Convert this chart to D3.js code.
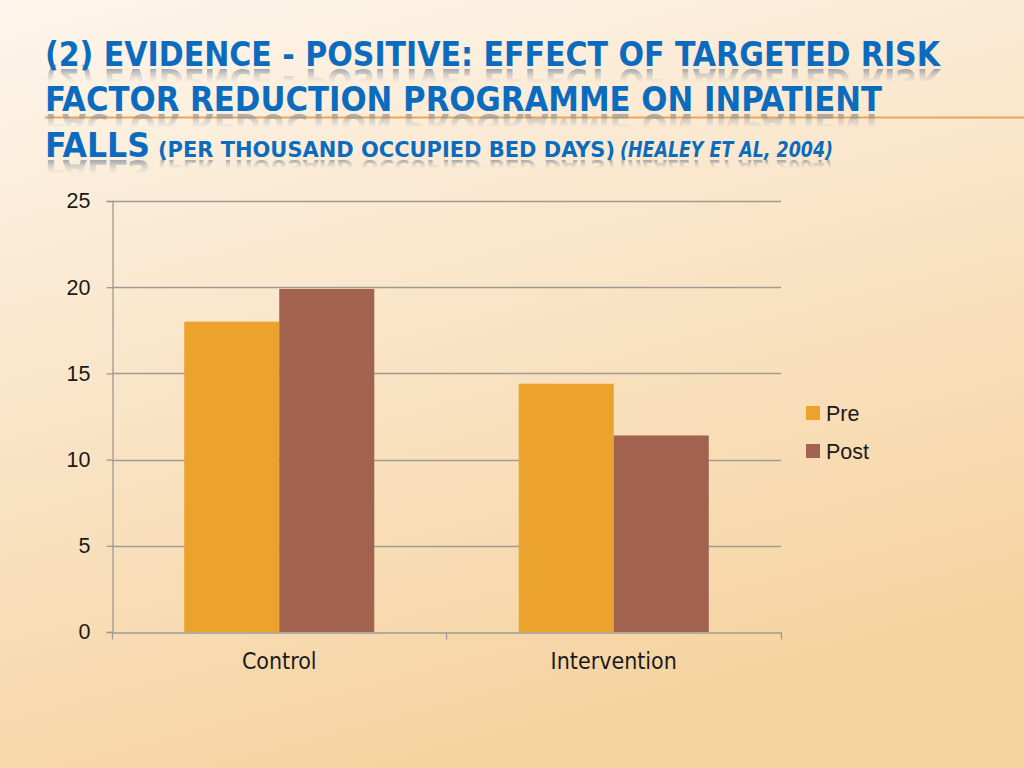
<!DOCTYPE html>
<html>
<head>
<meta charset="utf-8">
<script src="https://cdn.jsdelivr.net/npm/d3@7"></script>
<style>
  html, body { margin: 0; padding: 0; }
  body { width: 1024px; height: 768px; overflow: hidden; }
</style>
</head>
<body>
<div id="plot"></div>
<script>
// chart data
const categories = ["Control", "Intervention"];
const seriesNames = ["Pre", "Post"];
const preValues = [18, 14.4];
const postValues = [19.9, 11.4];
const yTicks = [0, 5, 10, 15, 20, 25];

const titleLines = [
  "(2) EVIDENCE - POSITIVE: EFFECT OF TARGETED RISK",
  "FACTOR REDUCTION PROGRAMME ON INPATIENT"
];

const width = 1024, height = 768;
const colors = { Pre: "#eca32d", Post: "#a1634f" };

const svg = d3.select("#plot").append("svg")
  .attr("width", width)
  .attr("height", height);

const defs = svg.append("defs");

// slide background
const bg = defs.append("linearGradient")
  .attr("id", "bg")
  .attr("x1", "0").attr("y1", "0")
  .attr("x2", "0.35").attr("y2", "1");
bg.append("stop").attr("offset", "0%").attr("stop-color", "#fdf6ec");
bg.append("stop").attr("offset", "30%").attr("stop-color", "#fbebd6");
bg.append("stop").attr("offset", "100%").attr("stop-color", "#f6d4a2");

// fading fill for the title reflection (local coords, before the flip)
const refl = defs.append("linearGradient")
  .attr("id", "refl")
  .attr("x1", "0").attr("y1", "0")
  .attr("x2", "0").attr("y2", "1");
refl.append("stop").attr("offset", "0%").attr("stop-color", "#7a8696").attr("stop-opacity", 0);
refl.append("stop").attr("offset", "45%").attr("stop-color", "#7a8696").attr("stop-opacity", 0);
refl.append("stop").attr("offset", "65%").attr("stop-color", "#7a8696").attr("stop-opacity", 0.3);
refl.append("stop").attr("offset", "82%").attr("stop-color", "#7a8696").attr("stop-opacity", 0.75);
refl.append("stop").attr("offset", "100%").attr("stop-color", "#7a8696").attr("stop-opacity", 0.8);

svg.append("rect")
  .attr("width", width)
  .attr("height", height)
  .attr("fill", "url(#bg)");

// orange rule behind the title
svg.append("line")
  .attr("x1", 45).attr("x2", width)
  .attr("y1", 117.5).attr("y2", 117.5)
  .attr("stroke", "#e8a857")
  .attr("stroke-width", 2);

const titleFont = "'Liberation Sans Narrow', 'DejaVu Sans Condensed', 'Arial Narrow', sans-serif";
const titleBlue = "#0b6cbf";
const reflLayer = svg.append("g");
const titleLayer = svg.append("g");
let pieceId = 0;

// one piece of title text, plus a mirrored <use> of it as the reflection
function titlePiece(txt, x, y, len, size, italic) {
  const id = "tp" + (pieceId++);
  defs.append("text")
    .attr("id", id)
    .attr("x", x).attr("y", y)
    .attr("textLength", len)
    .attr("lengthAdjust", "spacingAndGlyphs")
    .style("font-family", titleFont)
    .style("font-weight", "bold")
    .style("font-style", italic ? "italic" : "normal")
    .style("font-size", size + "px")
    .text(txt);
  reflLayer.append("use")
    .attr("href", "#" + id)
    .attr("transform", `translate(0, ${2 * y + 3}) scale(1, -1)`)
    .attr("fill", "url(#refl)");
  titleLayer.append("text")
    .attr("x", x).attr("y", y)
    .attr("textLength", len)
    .attr("lengthAdjust", "spacingAndGlyphs")
    .style("font-family", titleFont)
    .style("font-weight", "bold")
    .style("font-style", italic ? "italic" : "normal")
    .style("font-size", size + "px")
    .attr("fill", titleBlue)
    .text(txt);
}

titlePiece(titleLines[0], 45, 66, 895, 33, false);
titlePiece(titleLines[1], 45, 111, 837, 33, false);
titlePiece("FALLS", 45, 157, 105, 33, false);
titlePiece("(PER THOUSAND OCCUPIED BED DAYS)", 158, 157, 457, 21, false);
titlePiece("(HEALEY ET AL, 2004)", 620, 157, 213, 21, true);

// chart area
const x0 = d3.scaleBand()
  .domain(categories)
  .range([112, 781])
  .paddingInner(0)
  .paddingOuter(0);

const x1 = d3.scaleBand()
  .domain(seriesNames)
  .range([0, x0.bandwidth()])
  .paddingInner(0)
  .paddingOuter(0.76);

const y = d3.scaleLinear()
  .domain([0, 25])
  .range([632, 201]);

const gridColor = "#9f9a93";
const labelFont = "'Liberation Sans', Arial, sans-serif";

// gridlines
svg.append("g")
  .selectAll("line")
  .data(yTicks.filter(d => d > 0))
  .join("line")
  .attr("x1", 112).attr("x2", 781)
  .attr("y1", d => Math.round(y(d)) + 0.5)
  .attr("y2", d => Math.round(y(d)) + 0.5)
  .attr("stroke", gridColor)
  .attr("stroke-width", 1.3);

// bars
const rows = categories.map((c, i) => ({ cat: c, Pre: preValues[i], Post: postValues[i] }));
svg.append("g")
  .selectAll("g")
  .data(rows)
  .join("g")
  .attr("transform", d => `translate(${x0(d.cat)}, 0)`)
  .selectAll("rect")
  .data(d => seriesNames.map(s => ({ key: s, value: d[s] })))
  .join("rect")
  .attr("x", d => x1(d.key))
  .attr("width", x1.bandwidth())
  .attr("y", d => y(d.value))
  .attr("height", d => y(0) - y(d.value))
  .attr("fill", d => colors[d.key]);

// y axis
const yAxis = svg.append("g")
  .attr("transform", "translate(112.5, 0)")
  .call(d3.axisLeft(y).tickValues(yTicks).tickSize(6).tickPadding(16).tickFormat(d3.format("d")));
yAxis.select(".domain").attr("stroke", gridColor).attr("stroke-width", 1.3);
yAxis.selectAll(".tick line").attr("stroke", gridColor).attr("stroke-width", 1.3);
yAxis.selectAll(".tick text")
  .style("font-family", labelFont)
  .style("font-size", "21.5px")
  .attr("fill", "#1a1a1a");

// x axis
const xAxis = svg.append("g")
  .attr("transform", "translate(0, 632.5)")
  .call(d3.axisBottom(x0).tickSize(0).tickPadding(20));
xAxis.select(".domain").attr("stroke", gridColor).attr("stroke-width", 1.3);
xAxis.selectAll(".tick text")
  .style("font-family", "'Liberation Sans Narrow', 'DejaVu Sans Condensed', sans-serif")
  .style("font-size", "23px")
  .attr("fill", "#1a1a1a");

// category separator ticks
xAxis.selectAll(".sep")
  .data([112, 446, 781])
  .join("line")
  .attr("class", "sep")
  .attr("x1", d => d + 0.5).attr("x2", d => d + 0.5)
  .attr("y1", 0).attr("y2", 7)
  .attr("stroke", gridColor)
  .attr("stroke-width", 1.3);

// legend
const legend = svg.append("g")
  .selectAll("g")
  .data(seriesNames)
  .join("g")
  .attr("transform", (d, i) => `translate(806, ${406 + i * 38})`);
legend.append("rect")
  .attr("width", 14).attr("height", 14)
  .attr("fill", d => colors[d]);
legend.append("text")
  .attr("x", 20).attr("y", 15)
  .style("font-family", labelFont)
  .style("font-size", "21.5px")
  .attr("fill", "#1a1a1a")
  .text(d => d);
</script>
</body>
</html>
